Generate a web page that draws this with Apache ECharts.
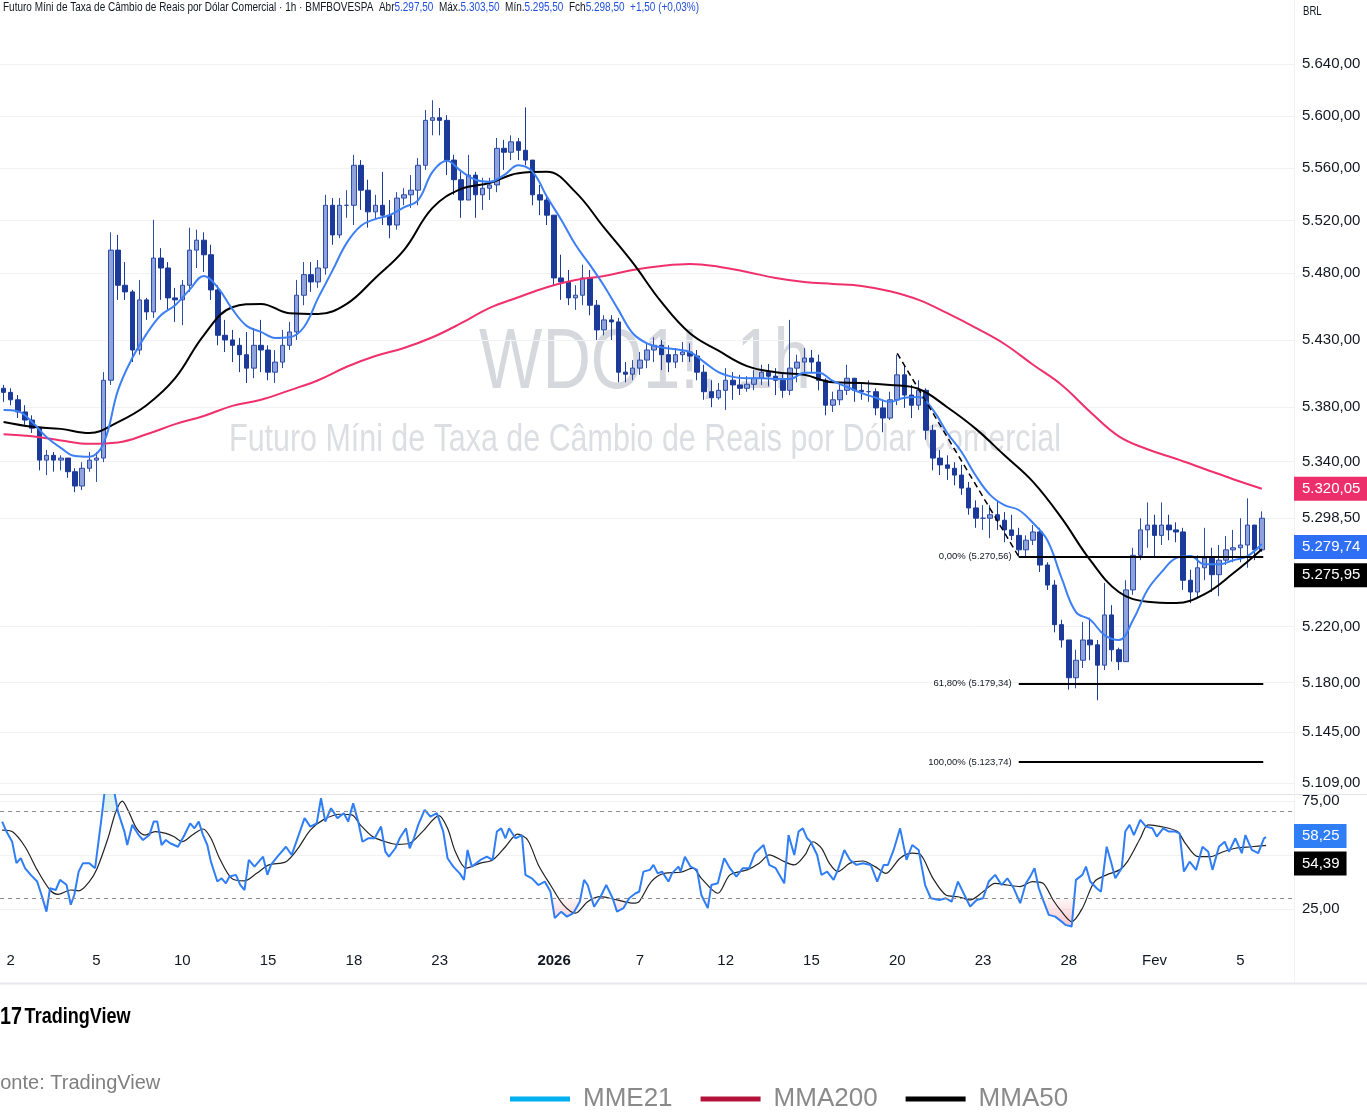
<!DOCTYPE html>
<html>
<head>
<meta charset="utf-8">
<title>WDO1! 1h</title>
<script src="https://cdn.jsdelivr.net/npm/echarts@6/dist/echarts.min.js"></script>
<style>
  html, body { margin: 0; padding: 0; background: #fff; }
  #chart { width: 1367px; height: 1114px; }
</style>
</head>
<body>
<div id="chart"></div>
<script>
// pregões exibidos (2 dez -> 5 fev), rótulo do eixo X quando houver
const dayLabels = ['2', '', '', '5', '', '', '10', '', '', '15', '', '', '18', '', '', '23', '', '', '',
  '2026', '', '', '7', '', '', '12', '', '', '15', '', '', '20', '', '', '23', '', '', '28', '', '', 'Fev', '', '', '5'];
const barsPerDay = 4;
const padBars = 4;

// candles (4 por pregão + 1 barra do dia 1)
const startOpen = 5394;
const closes = [5391,
  5385.5, 5376.5, 5370.5, 5364.5,  5341, 5344.5, 5341, 5342.5,  5332.5, 5322, 5335, 5341,
  5342.5, 5400, 5497.5, 5471,  5466, 5422.5, 5460, 5451,  5491.5, 5484, 5461.5, 5460,
  5471, 5497.5, 5505, 5494,  5467.5, 5433.5, 5430, 5426,  5419, 5409, 5426, 5422.5,
  5406, 5413.5, 5426, 5436,  5463.5, 5479, 5473.5, 5484,  5531.5, 5509, 5531.5, 5531.5,
  5562, 5543, 5526.5, 5531.5,  5524, 5516.5, 5537, 5539.5,  5543, 5562, 5596.5, 5598.5,
  5596.5, 5566, 5551, 5535.5,  5554.5, 5539.5, 5544.5, 5547,  5575, 5572, 5580, 5573.5,
  5566, 5539.5, 5535.5, 5524,  5476.5, 5473.5, 5461.5, 5463.5,  5476.5, 5456, 5437.5, 5445,
  5443.5, 5406, 5404.5, 5409,  5415, 5422.5, 5426, 5419,  5413.5, 5419, 5421, 5418,
  5406, 5391.5, 5387, 5392.5,  5400, 5396.5, 5394, 5397,  5401.5, 5406, 5403, 5400,
  5392.5, 5409, 5413.5, 5416.5,  5413.5, 5400, 5381.5, 5385.5,  5392.5, 5401.5, 5392.5, 5391.5,
  5391.5, 5379.5, 5372, 5385.5,  5404, 5389, 5381.5, 5392.5,  5363, 5342.5, 5337.5, 5335,
  5330, 5320.5, 5306, 5298.5,  5298.5, 5301, 5297, 5290,  5286, 5275.5, 5282.5, 5288.5,
  5264.5, 5250, 5221.5, 5210.5,  5183.5, 5196, 5210.5, 5207,  5192.5, 5228.5, 5203.5, 5195,
  5246.5, 5271.5, 5290, 5293.5,  5286, 5293.5, 5290, 5288.5,  5253.5, 5245, 5262.5, 5269.5,
  5257.5, 5268, 5275.5, 5277,  5279, 5293.5, 5275.5, 5298.5];
const highs = [5396.5,
  5394, 5389, 5381.5, 5374,  5364.5, 5348.5, 5347, 5344.5,  5342.5, 5335, 5339.5, 5347,
  5347, 5406, 5511, 5509,  5488.5, 5467.5, 5475, 5461.5,  5520.5, 5499, 5488.5, 5469,
  5475, 5514.5, 5513, 5511,  5501.5, 5471, 5445, 5437.5,  5431.5, 5436, 5439, 5445,
  5426, 5422.5, 5437.5, 5443.5,  5475, 5488.5, 5488.5, 5490,  5539.5, 5537, 5537, 5543,
  5570, 5566, 5551, 5539.5,  5557, 5535.5, 5541.5, 5544.5,  5554.5, 5567.5, 5604.5, 5612,
  5606, 5600.5, 5570, 5557,  5570, 5557, 5552.5, 5552.5,  5583, 5581.5, 5585, 5583,
  5606.5, 5566, 5547, 5539.5,  5520.5, 5494, 5482.5, 5471,  5486.5, 5482.5, 5460, 5448.5,
  5448.5, 5446.5, 5413.5, 5415,  5421, 5428.5, 5432, 5430,  5426, 5424, 5428.5, 5427.5,
  5422.5, 5411.5, 5400, 5398,  5409, 5406, 5404, 5403,  5407.5, 5411.5, 5412, 5409,
  5406, 5445, 5419, 5424,  5422.5, 5419, 5401.5, 5391.5,  5398.5, 5411.5, 5401.5, 5398,
  5400, 5394, 5385.5, 5391.5,  5419, 5411.5, 5396.5, 5400,  5394, 5367, 5348.5, 5344.5,
  5339.5, 5337.5, 5325, 5311.5,  5308, 5308, 5311.5, 5303,  5301, 5291.5, 5286, 5293.5,
  5291.5, 5266.5, 5253.5, 5225,  5207, 5203.5, 5223.5, 5226.5,  5210.5, 5251.5, 5235.5, 5205,
  5253.5, 5277, 5298.5, 5310,  5301, 5310, 5301, 5295.5,  5291.5, 5261, 5271.5, 5291.5,
  5277, 5279, 5285.5, 5290,  5298.5, 5313, 5286, 5303.5];
const lows = [5384,
  5381.5, 5372, 5367, 5361,  5333.5, 5330, 5332.5, 5333.5,  5328, 5317.5, 5319, 5332.5,
  5325, 5339.5, 5396.5, 5460,  5460, 5413.5, 5419, 5445,  5446.5, 5460, 5452.5, 5443.5,
  5441, 5466, 5484, 5481,  5460, 5426, 5421, 5413.5,  5406, 5398, 5401.5, 5406,
  5400, 5398, 5409, 5422.5,  5430, 5456, 5466, 5469,  5479, 5501.5, 5506.5, 5522,
  5516.5, 5528, 5514.5, 5520.5,  5516.5, 5506.5, 5513, 5531.5,  5529.5, 5531.5, 5558.5, 5585,
  5585, 5554.5, 5539.5, 5522,  5535.5, 5522, 5528, 5535.5,  5541.5, 5558.5, 5566, 5566,
  5562, 5531.5, 5524, 5516.5,  5471, 5460, 5456, 5452.5,  5456, 5448.5, 5430, 5433.5,
  5430, 5398.5, 5398.5, 5400,  5404, 5409, 5413.5, 5407.5,  5406, 5409, 5413.5, 5413.5,
  5400, 5385.5, 5380, 5385.5,  5378, 5385.5, 5389, 5391.5,  5392.5, 5396.5, 5395.5, 5389,
  5387, 5389, 5398.5, 5406,  5406, 5392.5, 5374, 5376.5,  5381.5, 5389, 5384, 5385.5,
  5384, 5374, 5361.5, 5370.5,  5381.5, 5379.5, 5372, 5378,  5356, 5333.5, 5330, 5326.5,
  5322.5, 5315.5, 5301, 5291.5,  5290, 5284, 5290, 5281,  5282.5, 5270.5, 5271, 5279,
  5259.5, 5246.5, 5216, 5205,  5175, 5176, 5190.5, 5196,  5167.5, 5189, 5195, 5189,
  5226.5, 5243, 5268, 5277,  5269.5, 5279, 5282.5, 5281,  5246.5, 5237, 5240.5, 5253.5,
  5245, 5242, 5264.5, 5266.5,  5266.5, 5262.5, 5268, 5274];

// médias (MME21 a cada 2 barras, MMA50 e MMA200 a cada 4 barras)
const mme21 = [5378, 5377, 5369, 5358, 5350, 5344, 5343.5, 5353.5, 5392.5, 5416.5,
  5434.5, 5448.5, 5456, 5467.5, 5478, 5469, 5453, 5440.5, 5436, 5431.5,
  5432, 5439.5, 5461.5, 5482, 5503, 5516, 5521, 5524, 5530, 5535.5,
  5557, 5565.5, 5557.5, 5551, 5549.5, 5554.5, 5562, 5557, 5538, 5520.5,
  5501.5, 5486.5, 5470.5, 5452.5, 5435, 5427.5, 5424.5, 5423, 5421, 5413.5,
  5406, 5402.5, 5401.5, 5401.5, 5401, 5401, 5405.5, 5405.5, 5399.5, 5395,
  5390.5, 5387, 5384, 5387, 5387.5, 5378, 5361, 5347, 5329.5, 5315.5,
  5308, 5304.5, 5295, 5282.5, 5255, 5230.5, 5225, 5214, 5210.5, 5225,
  5246.5, 5259.5, 5269.5, 5271, 5265, 5265, 5268, 5271, 5279.74];
const mma50 = [5369, 5365.5, 5364, 5361, 5369, 5381.5, 5401.5, 5433.5, 5454.5, 5457,
  5450, 5449.5, 5457, 5476.5, 5497.5, 5529.5, 5544, 5548.5, 5556, 5557,
  5541.5, 5514.5, 5488, 5458.5, 5435, 5422, 5410.5, 5406, 5404, 5398.5,
  5398, 5396.5, 5393.5, 5380, 5364, 5344.5, 5325, 5298.5, 5268, 5245,
  5238, 5237, 5243.5, 5258.5, 5275.95];
const mma200 = [5360, 5358.5, 5355.5, 5353, 5354, 5360, 5367.5, 5373.5, 5381, 5385.5,
  5392.5, 5400, 5410, 5418, 5424, 5432, 5442.5, 5454, 5462, 5469.5,
  5475, 5478, 5482.5, 5485.5, 5487, 5485, 5481, 5476.5, 5473.5, 5472,
  5470.5, 5466.5, 5460, 5450, 5439, 5427, 5411.5, 5396.5, 5376.5, 5358.5,
  5349, 5342, 5334.5, 5327, 5320.05];

// IFR [barra, valor]
const rsi = [[-0.2,65.4],[0.4,60.8],[1.2,56.1],[1.8,46.2],[2.4,48.5],[3.0,43.9],[3.8,40.8],[4.7,37.7],[5.3,31.6],[6.0,23.8],
  [6.5,34.6],[7.3,33.8],[7.9,38.5],[8.8,36.2],[9.4,27.0],[9.9,31.6],[10.5,42.3],[11.1,46.2],[12.0,46.2],[12.8,43.9],
  [13.7,67.0],[14.3,84],[15.1,86],[16.0,70.0],[16.9,60.8],[17.3,54.6],[18.0,63.9],[18.9,59.2],[19.5,56.9],[20.4,59.2],
  [21.0,65.4],[21.5,65.4],[22.1,54.6],[22.7,56.9],[23.3,55.4],[24.4,53.8],[25.3,59.2],[26.1,64.6],[26.7,62.3],[27.3,65.4],
  [27.9,59.2],[28.5,54.6],[29.0,46.9],[29.9,37.7],[30.5,39.2],[31.1,36.9],[31.6,40.0],[32.5,40.8],[33.1,36.2],[33.7,33.8],
  [34.3,47.7],[35.1,44.6],[36.3,49.2],[36.9,40.8],[37.4,45.4],[38.3,49.2],[39.5,53.8],[40.3,50.0],[41.2,58.5],[42.1,67.0],
  [42.9,63.1],[43.8,64.6],[44.4,76.2],[45.0,65.4],[45.8,71.6],[46.7,67.0],[47.6,69.3],[48.2,65.4],[48.9,73.9],[49.6,65.4],
  [50.2,56.1],[51.0,57.7],[51.9,57.7],[52.8,63.1],[53.4,51.5],[53.9,49.2],[54.8,53.1],[55.4,57.7],[56.3,62.3],[56.8,53.1],
  [57.4,57.7],[58.0,63.9],[58.9,70.8],[59.7,67.7],[60.6,69.3],[61.5,60.8],[62.1,48.5],[62.9,44.6],[63.8,41.5],[64.4,38.5],
  [64.9,52.3],[65.5,44.6],[66.7,47.7],[67.6,49.2],[68.4,47.7],[69.0,60.8],[69.6,62.3],[70.2,57.7],[70.7,62.3],[71.6,57.7],
  [72.5,59.2],[73.0,40.8],[73.9,39.2],[74.8,36.1],[75.7,37.7],[76.5,33.0],[77.1,20.8],[78.0,23.8],[78.8,21.5],[79.7,23.1],
  [80.6,28.4],[81.2,38.5],[81.7,36.1],[82.6,26.1],[83.5,30.7],[84.3,36.1],[85.2,30.0],[85.8,23.8],[86.7,25.4],[87.5,30.0],
  [88.4,32.3],[88.9,33.0],[89.5,42.3],[90.4,43.1],[90.9,45.4],[91.5,41.5],[92.1,42.3],[93.0,37.7],[93.5,41.5],[94.4,44.6],
  [94.7,42.3],[95.3,49.2],[96.1,44.6],[97.0,43.1],[97.6,31.5],[98.5,25.4],[99.0,36.1],[99.9,36.9],[100.8,48.5],[101.6,43.9],
  [102.5,40.0],[103.4,43.9],[104.3,43.9],[105.1,50.8],[106.3,54.6],[107.1,45.4],[108.0,43.9],[109.2,36.9],[109.8,59.2],[110.6,50.0],
  [111.2,60.8],[111.8,62.3],[112.4,57.7],[112.9,56.1],[113.8,50.0],[114.4,40.8],[115.2,42.3],[116.1,38.5],[116.7,43.1],[117.6,52.3],
  [118.4,47.7],[119.3,45.4],[120.2,46.2],[121.3,45.4],[122.2,37.7],[123.1,45.4],[123.7,45.4],[124.5,52.3],[125.4,62.3],[126.3,47.7],
  [127.1,54.6],[128.0,52.3],[128.9,36.1],[129.7,30.0],[130.9,29.2],[131.8,30.0],[132.6,28.4],[133.5,37.7],[134.4,31.5],[135.2,26.1],
  [136.1,29.2],[137.0,30.0],[137.8,37.7],[138.7,40.8],[139.6,36.1],[140.4,39.2],[141.3,34.6],[142.2,27.7],[143.0,36.9],[143.6,40.0],
  [144.2,43.9],[144.8,34.6],[145.4,29.2],[146.2,22.3],[147.1,21.5],[148.0,19.2],[148.5,17.7],[149.4,16.9],[150.0,38.5],[150.9,40.8],
  [151.4,44.6],[152.0,37.7],[152.9,34.6],[153.5,33.0],[154.3,53.8],[154.9,46.9],[155.5,39.2],[156.4,43.9],[156.9,60.8],[157.5,63.9],
  [158.1,59.2],[159.0,66.2],[159.8,63.1],[160.7,62.3],[161.3,58.5],[162.2,62.3],[163.0,60.8],[163.9,60.8],[164.5,60.0],[165.1,42.3],
  [165.9,46.9],[166.8,43.1],[167.7,53.8],[168.5,51.5],[169.1,43.1],[170.0,53.8],[170.8,56.1],[171.4,51.5],[172.3,57.7],[173.2,50.8],
  [173.7,59.2],[174.6,52.3],[175.5,50.8],[176.3,57.7],[176.6,58.25]];
const rsiMa = [[-0.2,61.5],[1.2,60.8],[3.0,53.8],[4.7,43.1],[6.5,33.8],[7.6,31.8],[9.4,33.8],[10.5,33.4],[12.0,37.7],[13.1,43.9],
  [14.6,57.7],[15.7,70.0],[16.6,74.9],[17.5,70.0],[18.6,62.3],[19.8,59.2],[21.2,60.8],[22.7,60.0],[23.8,58.5],[25.0,56.1],
  [26.4,59.2],[27.9,62.0],[29.0,57.7],[30.2,48.5],[31.9,39.2],[33.7,38.0],[35.4,41.5],[37.1,45.4],[39.5,46.9],[41.2,53.1],
  [42.9,61.5],[44.7,66.2],[47.0,68.8],[48.7,68.5],[49.9,63.9],[51.6,58.5],[53.4,56.1],[55.1,54.9],[56.8,55.4],[58.6,60.8],
  [60.9,68.2],[62.1,62.3],[63.2,51.5],[64.7,43.9],[66.7,46.2],[68.4,47.7],[70.2,53.8],[71.9,59.6],[73.3,56.9],[74.8,45.4],
  [76.5,36.1],[78.3,26.9],[80.0,23.1],[81.7,28.4],[83.5,30.7],[85.8,29.2],[88.1,27.7],[88.9,28.4],[90.6,37.7],[92.4,41.5],
  [94.7,42.0],[96.4,43.9],[97.6,39.2],[99.9,32.3],[101.6,40.8],[104.0,43.1],[105.7,46.2],[107.1,50.0],[109.2,46.9],[110.6,45.4],
  [112.1,50.0],[113.2,56.1],[114.4,53.1],[115.5,46.2],[116.7,42.3],[118.4,46.2],[120.2,47.2],[121.9,44.6],[123.4,41.5],[125.4,48.5],
  [127.1,50.8],[128.3,50.0],[130.0,39.2],[131.8,31.5],[133.5,30.7],[135.2,29.2],[137.0,33.0],[138.7,36.9],[140.4,36.1],[142.2,35.4],
  [143.9,37.7],[145.4,36.9],[146.8,29.2],[148.0,23.8],[149.4,19.2],[150.9,25.4],[152.6,37.7],[154.3,40.8],[156.1,43.1],[157.2,46.9],
  [159.0,57.7],[160.1,63.9],[161.9,63.1],[164.2,60.8],[165.3,55.4],[167.1,49.2],[168.8,49.2],[170.6,51.5],[172.3,53.1],[174.6,53.8],
  [176.3,54.3],[176.6,54.39]];

// eixos
const priceTicks = [5640, 5600, 5560, 5520, 5480, 5430, 5380, 5340, 5298.5, 5220, 5180, 5145, 5109];
const rsiLabelTicks = [75, 25];
const rsiGridTicks = [75, 50, 25];
const rsiBands = [70, 30];

// desenho: Fibonacci e linha de tendência (barra, preço)
const trendPoints = [[125, 5420], [142, 5270.56]];
const fibLevels = [['0,00%', 5270.56], ['61,80%', 5179.34], ['100,00%', 5123.74]];
const fibFrom = 142, fibTo = 176.2;

const lastBar = { open: 5297.5, high: 5303.5, low: 5295.5, close: 5298.5, chg: 1.5, pct: 0.03 };

const BASE = "'Liberation Sans', Arial, sans-serif";
const SQUEEZE = 0.8; // o print original está comprimido na horizontal

function fmt(v, d) {
  if (d === undefined) d = 2;
  const parts = Math.abs(v).toFixed(d).split('.');
  const i = parts[0].replace(/\B(?=(\d{3})+(?!\d))/g, '.');
  return (v < 0 ? '-' : '') + i + (d ? ',' + parts[1] : '');
}

// categorias: barra do dia 1, 4 barras por pregão e folga à direita
const categories = ['pre'];
dayLabels.forEach((lab, d) => { for (let k = 0; k < barsPerDay; k++) categories.push(d + '-' + k); });
for (let k = 0; k < padBars; k++) categories.push('pad' + k);
const catLabel = (v) => {
  const m = /^(\d+)-0$/.exec(v);
  return m ? dayLabels[+m[1]] : '';
};

const candles = closes.map((c, i) => {
  const o = i === 0 ? startOpen : closes[i - 1];
  return [o, c, Math.min(lows[i], o, c), Math.max(highs[i], o, c)];
});

function badge(value, bg, offsetY) {
  return {
    yAxis: value,
    lineStyle: { color: 'transparent', width: 0 },
    label: {
      show: true, position: 'end', distance: 0, formatter: fmt(value),
      color: '#fff', backgroundColor: bg, padding: [5, 7, 4, 8],
      fontSize: 15, fontFamily: BASE, offset: [0, offsetY || 0]
    }
  };
}

const chart = echarts.init(document.getElementById('chart'));
const xMax = categories.length - 0.5;

chart.setOption({
  animation: false,
  textStyle: { fontFamily: BASE },
  grid: [
    { left: 0, top: 0, width: 1294, height: 790 },
    { left: 0, top: 795, width: 1294, height: 145 }
  ],
  xAxis: [
    { type: 'category', gridIndex: 0, data: categories, boundaryGap: true, show: false },
    {
      type: 'category', gridIndex: 1, data: categories, boundaryGap: true,
      axisLine: { show: false }, axisTick: { show: false }, splitLine: { show: false },
      axisLabel: {
        interval: (idx, v) => catLabel(v) !== '',
        formatter: (v) => { const t = catLabel(v); return /^\d{4}$/.test(t) ? '{b|' + t + '}' : t; },
        color: '#131722', fontSize: 15, margin: 13,
        rich: { b: { fontWeight: 'bold', fontSize: 15, color: '#131722' } }
      }
    },
    { type: 'value', gridIndex: 0, min: -0.5, max: xMax, show: false },
    { type: 'value', gridIndex: 1, min: -0.5, max: xMax, show: false }
  ],
  yAxis: [
    {
      type: 'log', gridIndex: 0, min: 5104.1, max: 5689.9, position: 'right',
      axisLine: { show: false },
      axisTick: { show: false, customValues: priceTicks },
      axisLabel: { customValues: priceTicks, formatter: (v) => fmt(v), color: '#131722', fontSize: 15, margin: 8 },
      splitLine: { show: true, lineStyle: { color: '#f0f2f5', width: 1 } }
    },
    {
      type: 'value', gridIndex: 1, min: 10.7, max: 77.7, position: 'right',
      axisLine: { show: false },
      axisTick: { show: false, customValues: rsiGridTicks },
      axisLabel: { customValues: rsiLabelTicks, formatter: (v) => fmt(v), color: '#131722', fontSize: 15, margin: 8 },
      splitLine: { show: true, lineStyle: { color: '#f0f2f5', width: 1 } }
    }
  ],
  legend: {
    left: 510, top: 1086, padding: 0, icon: 'rect', itemWidth: 60, itemHeight: 5, itemGap: 28, selectedMode: false,
    textStyle: { fontSize: 26, color: '#8a8a8a', fontFamily: BASE, padding: [0, 0, 0, 8] },
    data: [
      { name: 'MME21', itemStyle: { color: '#00b0f0' }, lineStyle: { color: '#00b0f0', width: 5 } },
      { name: 'MMA200', itemStyle: { color: '#b3123a' }, lineStyle: { color: '#b3123a', width: 5 } },
      { name: 'MMA50', itemStyle: { color: '#000' }, lineStyle: { color: '#000', width: 5 } }
    ]
  },
  graphic: [
    { type: 'text', x: 645, y: 364, scaleX: 0.78, style: { text: 'WDO1!, 1h', fontSize: 86, fontFamily: BASE, fill: '#d6d8dd', align: 'center', verticalAlign: 'middle', textAlign: 'center', textVerticalAlign: 'middle' } },
    { type: 'text', x: 645, y: 440, scaleX: 0.78, style: { text: 'Futuro Míni de Taxa de Câmbio de Reais por Dólar Comercial', fontSize: 39, fontFamily: BASE, fill: '#dddee3', align: 'center', verticalAlign: 'middle', textAlign: 'center', textVerticalAlign: 'middle' } },
    {
      type: 'text', x: 3, y: 2, scaleX: 0.833,
      style: {
        text: '{t|Futuro Míni de Taxa de Câmbio de Reais por Dólar Comercial · 1h · BMFBOVESPA}  {t|Abr}{v|' + fmt(lastBar.open) +
          '}  {t|Máx.}{v|' + fmt(lastBar.high) + '}  {t|Mín.}{v|' + fmt(lastBar.low) + '}  {t|Fch}{v|' + fmt(lastBar.close) +
          '}  {v|+' + fmt(lastBar.chg) + ' (+' + fmt(lastBar.pct) + '%)}',
        rich: {
          t: { fill: '#131722', fontSize: 12, fontFamily: BASE },
          v: { fill: '#2250d9', fontSize: 12, fontFamily: BASE }
        }
      }
    },
    { type: 'text', x: 1303, y: 6, scaleX: SQUEEZE, style: { text: 'BRL', fontSize: 12, fill: '#131722', fontFamily: BASE } },
    { type: 'line', shape: { x1: 0, y1: 794.5, x2: 1367, y2: 794.5 }, style: { stroke: '#e0e3eb', lineWidth: 1 } },
    { type: 'line', shape: { x1: 0, y1: 983.5, x2: 1367, y2: 983.5 }, style: { stroke: '#e6e8ee', lineWidth: 2 } },
    { type: 'line', shape: { x1: 1294.5, y1: 0, x2: 1294.5, y2: 983 }, style: { stroke: '#f0f1f4', lineWidth: 1 } },
    {
      type: 'text', x: 0, y: 1005, scaleX: 0.82,
      style: {
        text: '{l|17} {t|TradingView}',
        rich: {
          l: { fontSize: 24, fontWeight: 'bold', fill: '#000', fontFamily: BASE },
          t: { fontSize: 22, fontWeight: 'bold', fill: '#000', fontFamily: BASE }
        }
      }
    },
    { type: 'text', x: -12, y: 1073, style: { text: 'Fonte: TradingView', fontSize: 20, fill: '#7f7f7f', fontFamily: BASE } }
  ],
  series: [
    {
      name: 'WDO1!', type: 'candlestick', xAxisIndex: 0, yAxisIndex: 0, data: candles, barWidth: 5, z: 2,
      itemStyle: { color: '#8fa2dc', color0: '#1b3a99', borderColor: '#2d4ca8', borderColor0: '#1b3a99', borderWidth: 1 }
    },
    {
      name: 'MMA200', type: 'line', xAxisIndex: 2, yAxisIndex: 0, z: 3,
      data: mma200.map((v, k) => [k * 4, v]), smooth: 0.4, showSymbol: false,
      lineStyle: { color: '#f0306c', width: 2 },
      markLine: { silent: true, symbol: 'none', data: [badge(mma200[mma200.length - 1], '#ec2f6b', 0)] }
    },
    {
      name: 'MMA50', type: 'line', xAxisIndex: 2, yAxisIndex: 0, z: 3,
      data: mma50.map((v, k) => [k * 4, v]), smooth: 0.4, showSymbol: false,
      lineStyle: { color: '#000', width: 2 },
      markLine: { silent: true, symbol: 'none', data: [badge(mma50[mma50.length - 1], '#000', 26)] }
    },
    {
      name: 'MME21', type: 'line', xAxisIndex: 2, yAxisIndex: 0, z: 4,
      data: mme21.map((v, k) => [k * 2, v]), smooth: 0.4, showSymbol: false,
      lineStyle: { color: '#3d7ff5', width: 2 },
      markLine: { silent: true, symbol: 'none', data: [badge(mme21[mme21.length - 1], '#2f6ff5', 3)] }
    },
    {
      name: 'Fibonacci', type: 'line', xAxisIndex: 2, yAxisIndex: 0, z: 5,
      data: trendPoints, showSymbol: false,
      lineStyle: { color: '#000', width: 1.5, type: [6, 4] },
      markLine: {
        silent: true, symbol: 'none',
        lineStyle: { color: '#000', width: 2, type: 'solid' },
        data: fibLevels.map(([pct, v]) => {
          const label = { show: true, position: 'start', distance: 7, formatter: pct + ' (' + fmt(v) + ')', color: '#131722', fontSize: 9.5, fontFamily: BASE };
          return [{ coord: [fibFrom, v], label: label }, { coord: [fibTo, v], label: label }];
        })
      }
    },
    {
      name: 'IFR fill low', type: 'line', xAxisIndex: 3, yAxisIndex: 1, z: 1, silent: true,
      data: rsi.map(([x, v]) => [x, Math.min(v, 30)]), showSymbol: false,
      lineStyle: { opacity: 0 },
      areaStyle: {
        origin: 30,
        color: new echarts.graphic.LinearGradient(0, 0, 0, 1, [
          { offset: 0, color: 'rgba(242,54,69,0.06)' }, { offset: 1, color: 'rgba(242,54,69,0.4)' }
        ])
      }
    },
    {
      name: 'IFR fill high', type: 'line', xAxisIndex: 3, yAxisIndex: 1, z: 1, silent: true,
      data: rsi.map(([x, v]) => [x, Math.max(v, 70)]), showSymbol: false,
      lineStyle: { opacity: 0 },
      areaStyle: { origin: 70, color: 'rgba(8,153,129,0.18)' }
    },
    {
      name: 'IFR MA', type: 'line', xAxisIndex: 3, yAxisIndex: 1, z: 3,
      data: rsiMa, showSymbol: false, smooth: 0.3,
      lineStyle: { color: '#222', width: 1.2 },
      markLine: { silent: true, symbol: 'none', data: [badge(rsiMa[rsiMa.length - 1][1], '#000', 18)] }
    },
    {
      name: 'IFR', type: 'line', xAxisIndex: 3, yAxisIndex: 1, z: 4,
      data: rsi, showSymbol: false,
      lineStyle: { color: '#2f7ef6', width: 2 },
      markLine: {
        silent: true, symbol: 'none',
        data: rsiBands.map(v => ({ yAxis: v, lineStyle: { color: '#8a8d96', width: 1, type: [4, 4] }, label: { show: false } }))
          .concat([badge(rsi[rsi.length - 1][1], '#2f7ef6', -1)])
      }
    }
  ]
});
</script>
</body>
</html>
